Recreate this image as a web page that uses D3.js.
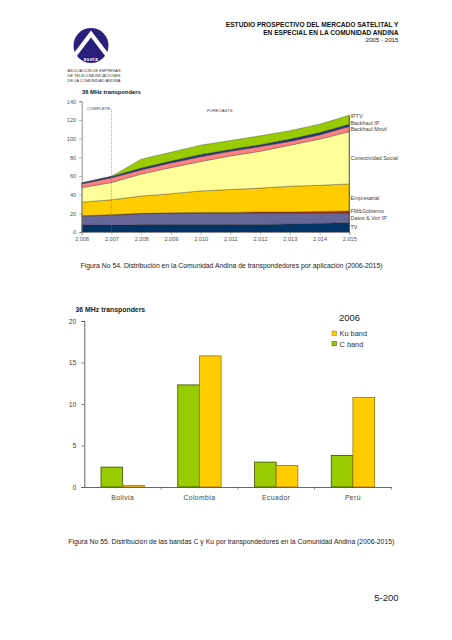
<!DOCTYPE html>
<html><head><meta charset="utf-8">
<script src="https://cdn.jsdelivr.net/npm/d3@7"></script>
<style>
html,body{margin:0;padding:0;background:#fff;}
svg{display:block;font-family:"Liberation Sans",Arial,sans-serif;}
</style></head>
<body>
<svg id="page" width="452" height="640"></svg>
<script>
// ---------- DATA (top chart) ----------
const years = [2006,2007,2008,2009,2010,2011,2012,2013,2014,2015];
const xTickLabels = ["2.006","2.007","2.008","2.009","2.010","2.011","2.012","2.013","2.014","2.015"];
const yTicksTop = [0,20,40,60,80,100,120,140];
const tv            = [7.5,7.5,8,8,8,8,8,8.5,9.5,10];
const datosVoz      = [9.5,10.5,11.5,12,12,12,12,11.5,10.5,10];
const fmGobierno    = [0.5,0.5,0.5,0.5,1,1,1.5,1.5,2,2.5];
const empresarial   = [14.5,16,18.5,20.5,23,24.5,25.5,27.5,28,29];
const conectividad  = [15.5,18.5,23.5,28,31.5,36,39.5,44,49.5,56];
const backhaulMovil = [4,5,4.5,5,5,5,5,4,4.5,5.5];
const backhaulIP    = [1,1.5,2,2,2.5,2,2,2.5,2.5,2.5];
const iptv          = [0,0,9.5,9.5,10,9.5,9.5,9,9,9.5];
const seriesNames = ["TV","Datos & Voz IP","FM&Gobierno","Empresarial","Conectividad Social","Backhaul Movil","Backhaul IP","IPTV"];
const seriesValues = [tv,datosVoz,fmGobierno,empresarial,conectividad,backhaulMovil,backhaulIP,iptv];
const seriesColors = ["#003366","#666699","#993300","#ffcc00","#ffff99","#ff8080","#1f3a80","#99cc00"];

// ---------- DATA (bottom chart) ----------
const countries = ["Bolivia","Colombia","Ecuador","Perú"];
const bands = ["C band","Ku band"];
const cBand  = [2.4,12.3,3.0,3.8];
const kuBand = [0.2,15.8,2.6,10.8];
const yTicksBottom = [0,5,10,15,20];
const bandColors = {"C band":"#99cc00","Ku band":"#ffcc00"};
const bandStrokes = {"C band":"#3d4d00","Ku band":"#9c7a00"};

const svg = d3.select("#page");

// ---------- HEADER ----------
const hdr = svg.append("g").attr("fill","#111");
hdr.append("text").attr("x",398.5).attr("y",27).attr("text-anchor","end").attr("font-size",6.6).attr("font-weight","bold").text("ESTUDIO PROSPECTIVO DEL MERCADO SATELITAL Y");
hdr.append("text").attr("x",398.5).attr("y",34.5).attr("text-anchor","end").attr("font-size",6.6).attr("font-weight","bold").text("EN ESPECIAL EN LA COMUNIDAD ANDINA");
hdr.append("text").attr("x",398.5).attr("y",41.5).attr("text-anchor","end").attr("font-size",6.2).attr("fill","#222").text("2005 - 2015");

// ---------- LOGO ----------
const logo = svg.append("g");
logo.append("circle").attr("cx",91).attr("cy",45.5).attr("r",17.5).attr("fill","#2b1f7c");
logo.append("path").attr("d","M75,55 L91,34 L107,55").attr("fill","none").attr("stroke","#fff").attr("stroke-width",4.2).attr("stroke-linejoin","miter");
logo.append("text").attr("x",91).attr("y",60.5).attr("text-anchor","middle").attr("font-size",4.6).attr("font-weight","bold").attr("fill","#fff").attr("letter-spacing",0.6).text("aseta");
const lt = ["ASOCIACION DE EMPRESAS","DE TELECOMUNICACIONES","DE LA COMUNIDAD ANDINA"];
lt.forEach((t,i)=>logo.append("text").attr("x",67.5).attr("y",72+i*5).attr("font-size",4.3).attr("fill","#333").attr("textLength",53).attr("lengthAdjust","spacingAndGlyphs").text(t));

// ---------- TOP CHART ----------
const xT = d3.scaleLinear().domain([2006,2015]).range([81.7,349.3]);
const yT = d3.scaleLinear().domain([0,140]).range([232,101.3]);
const rows = years.map((yr,i)=>{const r={year:yr}; seriesNames.forEach((n,j)=>r[n]=seriesValues[j][i]); return r;});
const stacked = d3.stack().keys(seriesNames)(rows);
const area = d3.area().x(d=>xT(d.data.year)).y0(d=>yT(d[0])).y1(d=>yT(d[1]));
const gTop = svg.append("g");
gTop.selectAll("path.layer").data(stacked).join("path").attr("class","layer")
  .attr("d",area).attr("fill",(d,i)=>seriesColors[i])
  .attr("stroke","#333").attr("stroke-width",0.45).attr("stroke-opacity",0.8);
// right edge line
gTop.append("line").attr("x1",xT(2015)).attr("x2",xT(2015)).attr("y1",yT(d3.sum(seriesValues,s=>s[9]))).attr("y2",yT(0)).attr("stroke","#333").attr("stroke-width",0.7);

// axes
const yAxT = d3.axisLeft(yT).tickValues(yTicksTop).tickSize(2.5).tickPadding(3);
const gy = gTop.append("g").attr("transform",`translate(${xT(2006)},0)`).call(yAxT);
const xAxT = d3.axisBottom(xT).tickValues(years).tickFormat((d,i)=>xTickLabels[i]).tickSize(2.5).tickPadding(2.5);
const gx = gTop.append("g").attr("transform",`translate(0,${yT(0)})`).call(xAxT);
[gy,gx].forEach(g=>{
  g.select(".domain").attr("stroke","#777").attr("stroke-width",0.8);
  g.selectAll(".tick line").attr("stroke","#777").attr("stroke-width",0.6);
  g.selectAll(".tick text").attr("fill","#555").attr("font-size",5.6).attr("font-family","Liberation Sans, Arial, sans-serif");
});
// dashed separator
gTop.append("line").attr("x1",xT(2007)).attr("x2",xT(2007)).attr("y1",109).attr("y2",yT(0))
  .attr("stroke","#777").attr("stroke-width",0.6).attr("stroke-dasharray","1,1");
gTop.append("text").attr("x",87).attr("y",110).attr("font-size",4.2).attr("fill","#444").text("COMPLETE");
gTop.append("text").attr("x",207).attr("y",111.5).attr("font-size",4.2).attr("fill","#444").text("FORECASTS");
gTop.append("text").attr("x",82).attr("y",93.5).attr("font-size",5.8).attr("font-weight","bold").attr("fill","#111").text("36 MHz transponders");

// series labels on right
const labelY = {"IPTV":117.5,"Backhaul IP":124.5,"Backhaul Movil":130.5,"Conectividad Social":159.5,"Empresarial":199.5,"FM&Gobierno":213,"Datos & Voz IP":220,"TV":228.5};
seriesNames.forEach(n=>{
  gTop.append("text").attr("x",350.5).attr("y",labelY[n]).attr("font-size",5.4).attr("fill","#444").text(n);
});

svg.append("text").attr("x",231.5).attr("y",268).attr("text-anchor","middle").attr("font-size",6.6).attr("fill","#222")
  .attr("textLength",302).attr("lengthAdjust","spacingAndGlyphs")
  .text("Figura No 54. Distribución en la Comunidad Andina de transpondedores por aplicación (2006-2015)");

// ---------- BOTTOM CHART ----------
const x0 = d3.scaleBand().domain(countries).range([84.3,391.3]).paddingInner(0).paddingOuter(0);
const x1 = d3.scaleBand().domain(bands).range([0,x0.bandwidth()]).paddingInner(0).paddingOuter(0.77);
const yB = d3.scaleLinear().domain([0,20]).range([487,321]);
const gB = svg.append("g");
const bRows = countries.map((c,i)=>({country:c,"C band":cBand[i],"Ku band":kuBand[i]}));
gB.selectAll("g.grp").data(bRows).join("g").attr("class","grp")
  .attr("transform",d=>`translate(${x0(d.country)},0)`)
  .selectAll("rect").data(d=>bands.map(b=>({band:b,v:d[b]}))).join("rect")
  .attr("x",d=>x1(d.band)).attr("width",x1.bandwidth())
  .attr("y",d=>yB(d.v)).attr("height",d=>yB(0)-yB(d.v))
  .attr("fill",d=>bandColors[d.band]).attr("stroke",d=>bandStrokes[d.band]).attr("stroke-width",0.8);

const gyB = gB.append("g").attr("transform",`translate(84.3,0)`).call(d3.axisLeft(yB).tickValues(yTicksBottom).tickSize(3).tickPadding(5));
const gxB = gB.append("g").attr("transform",`translate(0,${yB(0)})`).call(d3.axisBottom(x0).tickSize(0).tickPadding(8));
// boundary ticks
gB.selectAll("line.bt").data(countries.slice(1).concat(["__end"])).join("line").attr("class","bt")
  .attr("x1",d=>d==="__end"?391.3:x0(d)).attr("x2",d=>d==="__end"?391.3:x0(d))
  .attr("y1",yB(0)).attr("y2",yB(0)+2.5).attr("stroke","#555").attr("stroke-width",0.7);
[gyB,gxB].forEach(g=>{
  g.select(".domain").attr("stroke","#555").attr("stroke-width",0.9);
  g.selectAll(".tick line").attr("stroke","#555").attr("stroke-width",0.7);
  g.selectAll(".tick text").attr("fill","#444").attr("font-size",6.8).attr("font-family","Liberation Sans, Arial, sans-serif");
});
gxB.selectAll(".tick text").attr("letter-spacing",0.4);
gB.append("text").attr("x",75.5).attr("y",312).attr("font-size",6.9).attr("font-weight","bold").attr("fill","#222").text("36 MHz transponders");

// legend
const lg = gB.append("g");
lg.append("text").attr("x",339).attr("y",321).attr("font-size",9.5).attr("fill","#222").text("2006");
["Ku band","C band"].forEach((b,i)=>{
  lg.append("rect").attr("x",332).attr("y",331+i*10.3).attr("width",4.5).attr("height",4.5)
    .attr("fill",bandColors[b]).attr("stroke",bandStrokes[b]).attr("stroke-width",0.5);
  lg.append("text").attr("x",339.5).attr("y",336.3+i*10.3).attr("font-size",7.4).attr("fill","#333").text(b);
});

svg.append("text").attr("x",231.3).attr("y",543.5).attr("text-anchor","middle").attr("font-size",6.6).attr("fill","#222")
  .attr("textLength",326).attr("lengthAdjust","spacingAndGlyphs")
  .text("Figura No 55. Distribución de las bandas C y Ku por transpondedores en la Comunidad Andina (2006-2015)");

svg.append("text").attr("x",398.5).attr("y",601).attr("text-anchor","end").attr("font-size",9.5).attr("fill","#222").text("5-200");
</script>
</body></html>
